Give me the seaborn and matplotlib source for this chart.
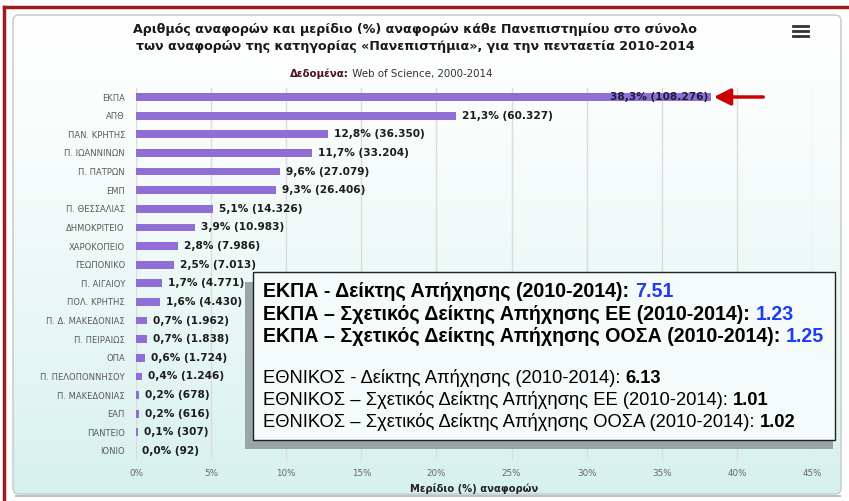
import numpy as np
import pandas as pd
import matplotlib
matplotlib.use("Agg")
import matplotlib.pyplot as plt
import seaborn as sns
from matplotlib.patches import FancyBboxPatch, Rectangle
from matplotlib.lines import Line2D

universities = ["ΕΚΠΑ", "ΑΠΘ", "ΠΑΝ. ΚΡΗΤΗΣ", "Π. ΙΩΑΝΝΙΝΩΝ", "Π. ΠΑΤΡΩΝ", "ΕΜΠ",
                "Π. ΘΕΣΣΑΛΙΑΣ", "ΔΗΜΟΚΡΙΤΕΙΟ", "ΧΑΡΟΚΟΠΕΙΟ", "ΓΕΩΠΟΝΙΚΟ", "Π. ΑΙΓΑΙΟΥ",
                "ΠΟΛ. ΚΡΗΤΗΣ", "Π. Δ. ΜΑΚΕΔΟΝΙΑΣ", "Π. ΠΕΙΡΑΙΩΣ", "ΟΠΑ", "Π. ΠΕΛΟΠΟΝΝΗΣΟΥ",
                "Π. ΜΑΚΕΔΟΝΙΑΣ", "ΕΑΠ", "ΠΑΝΤΕΙΟ", "ΙΟΝΙΟ"]
share = [38.3, 21.3, 12.8, 11.7, 9.6, 9.3, 5.1, 3.9, 2.8, 2.5, 1.7, 1.6, 0.7, 0.7, 0.6, 0.4,
         0.2, 0.2, 0.1, 0.0]
citations = ["108.276", "60.327", "36.350", "33.204", "27.079", "26.406", "14.326", "10.983",
             "7.986", "7.013", "4.771", "4.430", "1.962", "1.838", "1.724", "1.246",
             "678", "616", "307", "92"]
xticks = [0, 5, 10, 15, 20, 25, 30, 35, 40, 45]

title = ("Αριθμός αναφορών και μερίδιο (%) αναφορών κάθε Πανεπιστημίου στο σύνολο\n"
         "των αναφορών της κατηγορίας «Πανεπιστήμια», για την πενταετία 2010-2014")
ekpa_lines = [("ΕΚΠΑ - Δείκτης Απήχησης (2010-2014): ", "7.51"),
              ("ΕΚΠΑ – Σχετικός Δείκτης Απήχησης ΕΕ (2010-2014): ", "1.23"),
              ("ΕΚΠΑ – Σχετικός Δείκτης Απήχησης ΟΟΣΑ (2010-2014): ", "1.25")]
nat_lines = [("ΕΘΝΙΚΟΣ - Δείκτης Απήχησης (2010-2014): ", "6.13"),
             ("ΕΘΝΙΚΟΣ – Σχετικός Δείκτης Απήχησης ΕΕ (2010-2014): ", "1.01"),
             ("ΕΘΝΙΚΟΣ – Σχετικός Δείκτης Απήχησης ΟΟΣΑ (2010-2014): ", "1.02")]

df = pd.DataFrame({"uni": universities, "share": share, "cit": citations})

W, H = 849, 501
fig = plt.figure(figsize=(W / 100, H / 100), dpi=100)
fig.patch.set_facecolor("white")

def fx(x):
    return x / W

def fy(y):
    return 1 - y / H

# background axes for decorations
bg = fig.add_axes([0, 0, 1, 1], zorder=0)
bg.set_xlim(0, W)
bg.set_ylim(H, 0)
bg.axis("off")

panel = FancyBboxPatch((13, 15), 828, 479, boxstyle="round,pad=0,rounding_size=6",
                       facecolor="none", edgecolor="#c8d0d0", lw=1.2, zorder=1)
bg.add_patch(panel)
grad = np.linspace(0, 1, 256).reshape(-1, 1)
top_c = np.array([1.0, 1.0, 1.0])
bot_c = np.array([0.84, 0.945, 0.93])
img = top_c * (1 - grad[..., None] ** 1.3) + bot_c * (grad[..., None] ** 1.3)
im = bg.imshow(img, extent=(13, 841, 494, 15), aspect="auto", zorder=0)
im.set_clip_path(panel)
bg.add_line(Line2D([16, 840], [496, 496], color="#b8c4c4", lw=1.5, zorder=1))

bg.add_line(Line2D([4, W], [7, 7], color="#9e1b1b", lw=2.5, zorder=5))
bg.add_line(Line2D([4, 4], [7, H], color="#9e1b1b", lw=2.5, zorder=5))

for yy in (26, 31, 36):
    bg.add_line(Line2D([793, 808], [yy, yy], color="#333333", lw=2, zorder=5))

bg.text(415, 38, title, ha="center", va="center", fontsize=9.1,
        fontweight="bold", color="#1a1a1a", linespacing=1.4)
t_sub = bg.text(290, 74, "Δεδομένα:", ha="left", va="center", fontsize=7.4,
                fontweight="bold", color="#4a1020")
bg.annotate(" Web of Science, 2000-2014", xy=(1, 0.5), xycoords=t_sub,
            ha="left", va="center", fontsize=7.4, color="#333333")

# main axes
ax = fig.add_axes([fx(136), fy(460.3), (812 - 136) / W, (460.3 - 87.7) / H], zorder=1)
ax.set_facecolor("none")
sns.barplot(data=df, x="share", y="uni", color="#8f6fd6", saturation=1, width=0.42,
            ax=ax, zorder=3)
ax.set_xlim(0, 45)
ax.set_ylim(19.5, -0.5)
ax.set_xticks(xticks)
ax.set_xticklabels([f"{t}%" for t in xticks], fontsize=6.3, color="#666666")
ax.tick_params(axis="x", length=0, pad=6)
ax.tick_params(axis="y", length=0, pad=8, labelsize=6, labelcolor="#5a5a5a")
ax.grid(axis="x", color="#dcdcdc", lw=1, zorder=0)
ax.grid(axis="y", visible=False)
ax.set_axisbelow(True)
for s in ax.spines.values():
    s.set_visible(False)
ax.set_ylabel("")
ax.set_xlabel("Μερίδιο (%) αναφορών", fontsize=7.2, fontweight="bold", color="#222222",
              labelpad=4)

for i, (v, c) in enumerate(zip(share, citations)):
    lab = f"{v:.1f}%".replace(".", ",") + f" ({c})"
    if i == 0:
        ax.text(v - 0.2, i, lab, ha="right", va="center", fontsize=7.6, fontweight="bold",
                color="#1c1c3a", zorder=4)
    else:
        ax.text(v + 0.4, i, lab, ha="left", va="center", fontsize=7.6, fontweight="bold",
                color="#1c1c1c", zorder=4)

# overlay axes for arrow and text box
ov = fig.add_axes([0, 0, 1, 1], zorder=2)
ov.set_xlim(0, W)
ov.set_ylim(H, 0)
ov.axis("off")
ov.set_facecolor("none")

ov.annotate("", xy=(711, 97), xytext=(766, 97),
            arrowprops=dict(arrowstyle="-|>,head_length=1.0,head_width=0.5",
                            color="#cc0000", lw=2.5))

ov.add_patch(Rectangle((245, 282), 588, 167, facecolor="#98a6a6", edgecolor="none",
                       zorder=6))
ov.add_patch(Rectangle((253, 272), 582, 168, facecolor="#f4fbfa", edgecolor="#222222",
                       lw=1, zorder=7))

for k, (a, b) in enumerate(ekpa_lines):
    y = 301 + k * 22.5
    t1 = ov.text(263, y, a, ha="left", va="bottom", fontsize=14.1, fontweight="bold",
                 family="Liberation Sans", color="black", zorder=8)
    ov.annotate(b, xy=(1, 0), xycoords=t1, ha="left", va="bottom", fontsize=14.1,
                fontweight="bold", family="Liberation Sans", color="#1f3cf0", zorder=8)

for k, (a, b) in enumerate(nat_lines):
    y = 387 + k * 22
    t1 = ov.text(263, y, a, ha="left", va="bottom", fontsize=13.2,
                 family="Liberation Sans", color="black", zorder=8)
    ov.annotate(b, xy=(1, 0), xycoords=t1, ha="left", va="bottom", fontsize=13.2,
                fontweight="bold", family="Liberation Sans", color="black", zorder=8)

fig.savefig("out.png", dpi=100)
